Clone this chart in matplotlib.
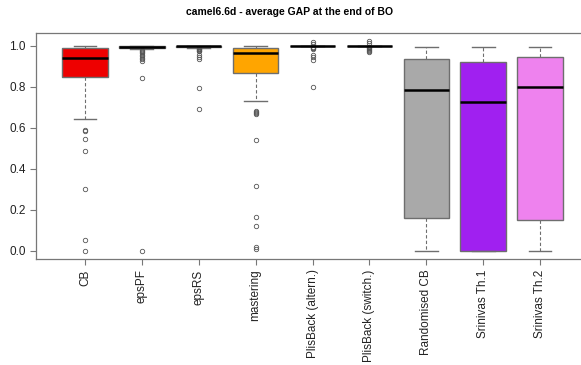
import matplotlib.pyplot as plt

#Data
labels = ["CB", "epsPF", "epsRS", "mastering", "PlisBack (altern.)", "PlisBack (switch.)",
          "Randomised CB", "Srinivas Th.1", "Srinivas Th.2"]
colours = ["#EE0000", "white", "white", "#FFA500", "white", "white", "#A9A9A9", "#A020F0", "#EE82EE"]

whis_low = [0.642, 0.985, 0.990, 0.731, 0.996, 0.996, 0.0, 0.0, 0.0]
q1 = [0.845, 0.988, 0.994, 0.868, 0.998, 0.998, 0.157, 0.0, 0.150]
medians = [0.937, 0.995, 0.998, 0.963, 1.0, 1.0, 0.785, 0.727, 0.797]
q3 = [0.987, 0.999, 1.0, 0.987, 1.0, 1.0, 0.934, 0.922, 0.946]
whis_high = [1.0, 1.0, 1.0, 1.0, 1.0, 1.0, 0.995, 0.995, 0.995]

fliers = [
    [0.589, 0.585, 0.546, 0.487, 0.30, 0.052, 0.0],
    [0.980, 0.975, 0.968, 0.962, 0.955, 0.948, 0.940, 0.932, 0.924, 0.844, 0.0],
    [0.987, 0.984, 0.981, 0.978, 0.975, 0.972, 0.956, 0.945, 0.935, 0.795, 0.689],
    [0.680, 0.676, 0.671, 0.665, 0.537, 0.313, 0.162, 0.118, 0.020, 0.006],
    [1.016, 1.005, 0.993, 0.990, 0.986, 0.982, 0.956, 0.944, 0.927, 0.797],
    [1.020, 1.010, 0.995, 0.992, 0.988, 0.984, 0.980, 0.975, 0.970],
    [],
    [],
    [],
]

stats = []
for i in range(len(labels)):
    stats.append({"label": labels[i], "whislo": whis_low[i], "q1": q1[i], "med": medians[i],
                  "q3": q3[i], "whishi": whis_high[i], "fliers": fliers[i]})

#Plot
plt.rcParams['font.family'] = ['Liberation Sans', 'DejaVu Sans']
fig = plt.figure(figsize=(5.81, 3.65), dpi=100)
# plot region runs a bit past the right edge of the figure
ax = fig.add_axes([36 / 581, 1 - 259 / 365, 553 / 581, 226 / 365])

edge = "#6E6E6E"
bp = ax.bxp(stats, positions=range(1, 10), widths=0.8, patch_artist=True, showfliers=True,
            boxprops=dict(edgecolor=edge, linewidth=1.0),
            medianprops=dict(color="black", linewidth=1.8),
            whiskerprops=dict(color=edge, linewidth=0.8, linestyle=(0, (3, 2))),
            capprops=dict(color=edge, linewidth=1.0),
            flierprops=dict(marker="o", markersize=3.2, markerfacecolor="none",
                            markeredgecolor="#555555", markeredgewidth=0.6))
for patch, c in zip(bp["boxes"], colours):
    patch.set_facecolor(c)
for cap in bp["caps"]:
    x = cap.get_xdata()
    mid = (x[0] + x[1]) / 2
    cap.set_xdata([mid - 0.2, mid + 0.2])

ax.set_xlim(0.14, 9.86)
ax.set_ylim(-0.0408, 1.061)
ax.set_yticks([0.0, 0.2, 0.4, 0.6, 0.8, 1.0])
ax.set_yticklabels(["0.0", "0.2", "0.4", "0.6", "0.8", "1.0"], fontsize=8.5)
ax.set_xticks(range(1, 10))
ax.set_xticklabels(labels, rotation=90, fontsize=8.5)
for s in ax.spines.values():
    s.set_color("#777777")
    s.set_linewidth(0.9)
ax.tick_params(colors="#777777", labelcolor="#222222", length=4, width=0.8)

fig.text(290 / 581, 1 - 12 / 365, "camel6.6d - average GAP at the end of BO",
         ha="center", va="center", fontsize=7.5, fontweight="bold")

plt.savefig("out.png", dpi=100)
